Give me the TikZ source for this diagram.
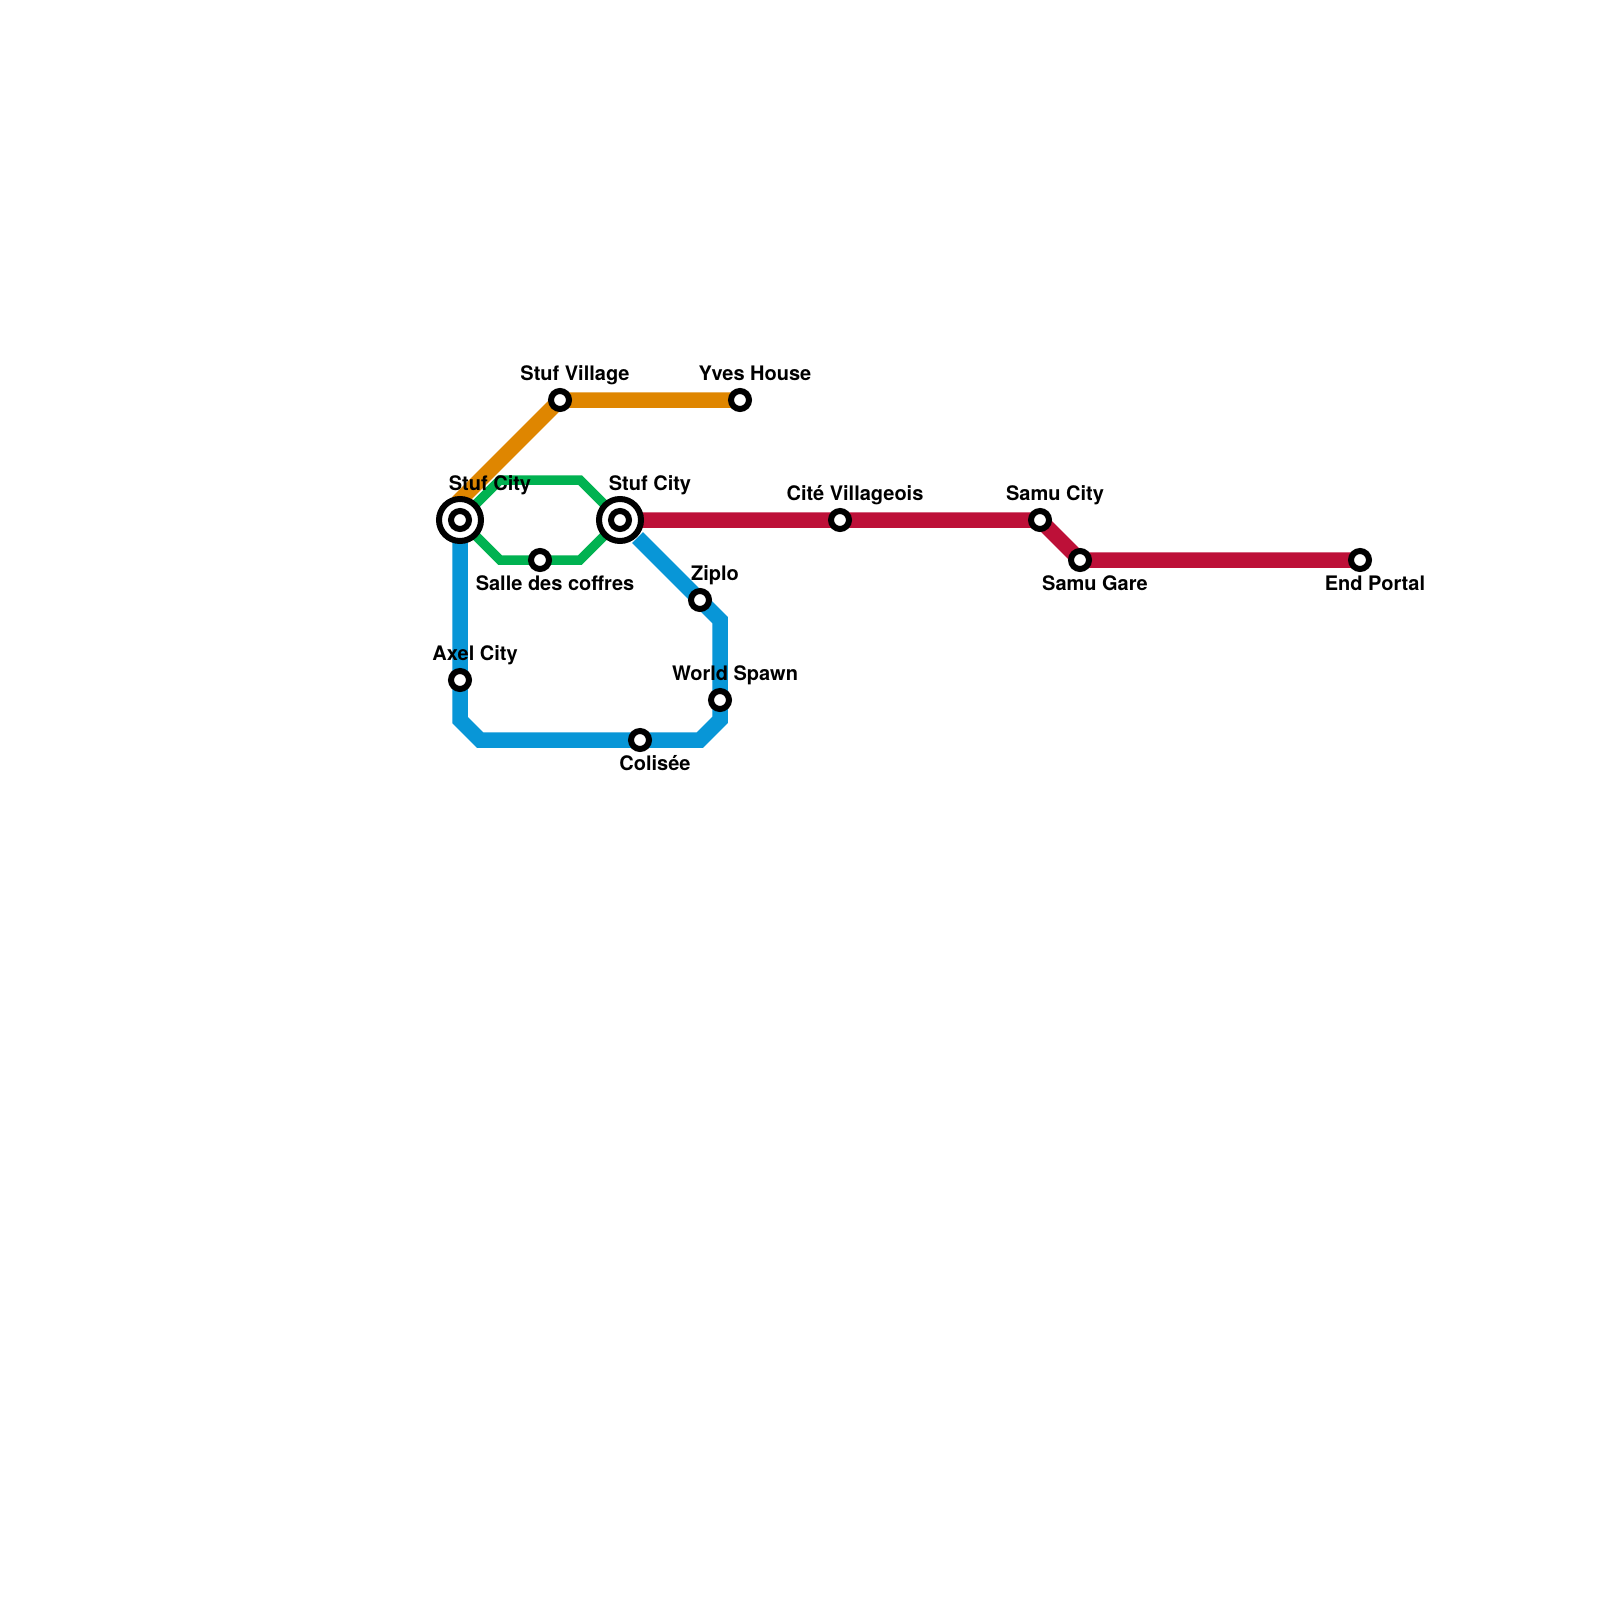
\documentclass[tikz,border=0pt]{standalone}
\usepackage{fontspec}
\setmainfont{TeX Gyre Heros}
\definecolor{lineorange}{HTML}{DF8600}
\definecolor{linegreen}{HTML}{00B251}
\definecolor{lineblue}{HTML}{0896D7}
\definecolor{linered}{HTML}{BD1038}
\tikzset{
  thick line/.style={line width=15.5pt,line join=miter},
  thin line/.style={line width=9.5pt,line join=miter},
  stop/.style={circle,draw=black,fill=white,line width=6pt,minimum size=18pt,inner sep=0pt,outer sep=0pt},
  interchange/.style={circle,draw=black,fill=white,line width=6pt,minimum size=42pt,inner sep=0pt,outer sep=0pt},
  stationlabel/.style={anchor=base,inner sep=0pt,outer sep=0pt,font=\fontsize{20pt}{22pt}\selectfont\bfseries,text=black}
}
\begin{document}
\begin{tikzpicture}[x=1pt,y=-1pt]
\useasboundingbox (0,0) rectangle (1600,1600);
\fill[white] (0,0) rectangle (1600,1600);
% bends
\coordinate (o1) at (460,500);
\coordinate (g1) at (500,480);
\coordinate (g2) at (580,480);
\coordinate (g3) at (500,560);
\coordinate (g4) at (580,560);
\coordinate (b1) at (460,720);
\coordinate (b2) at (480,740);
\coordinate (b3) at (700,740);
\coordinate (b4) at (720,720);
\coordinate (b5) at (720,620);
\coordinate (b6) at (637.5,537.5);
% station positions
\coordinate (stufA) at (460,520);
\coordinate (stufB) at (620,520);
\coordinate (village) at (560,400);
\coordinate (yves) at (740,400);
\coordinate (cite) at (840,520);
\coordinate (samucity) at (1040,520);
\coordinate (samugare) at (1080,560);
\coordinate (endportal) at (1360,560);
\coordinate (salle) at (540,560);
\coordinate (ziplo) at (700,600);
\coordinate (spawn) at (720,700);
\coordinate (colisee) at (640,740);
\coordinate (axel) at (460,680);
% lines
\draw[thick line,lineblue] (stufA) -- (axel) -- (b1) -- (b2) -- (colisee) -- (b3) -- (b4) -- (spawn) -- (b5) -- (ziplo) -- (b6);
\draw[thin line,linegreen] (stufA) -- (g1) -- (g2) -- (stufB) -- (g4) -- (salle) -- (g3) -- cycle;
\draw[thick line,lineorange] (stufA) -- (o1) -- (village) -- (yves);
\draw[thick line,linered] (stufB) -- (cite) -- (samucity) -- (samugare) -- (endportal);
% stations
\node[interchange] (stufAo) at (stufA) {};
\node[stop] (stufAi) at (stufA) {};
\node[interchange] (stufBo) at (stufB) {};
\node[stop] (stufBi) at (stufB) {};
\foreach \s in {village,yves,cite,samucity,samugare,endportal,salle,ziplo,spawn,colisee,axel}
  \node[stop] (n\s) at (\s) {};
% labels
\node[stationlabel] (lvillage) at (575,380.3) {Stuf Village};
\node[stationlabel] (lyves) at (755,380.3) {Yves House};
\node[stationlabel] (lstufA) at (490,490.3) {Stuf City};
\node[stationlabel] (lstufB) at (650,490.3) {Stuf City};
\node[stationlabel] (lcite) at (855,500.3) {Cité Villageois};
\node[stationlabel] (lsamucity) at (1055,500.3) {Samu City};
\node[stationlabel] (lsamugare) at (1095,590.3) {Samu Gare};
\node[stationlabel] (lend) at (1375,590.3) {End Portal};
\node[stationlabel] (lsalle) at (555,590.3) {Salle des coffres};
\node[stationlabel] (lziplo) at (715,580.3) {Ziplo};
\node[stationlabel] (lspawn) at (735,680.3) {World Spawn};
\node[stationlabel] (lcolisee) at (655,770.3) {Colisée};
\node[stationlabel] (laxel) at (475,660.3) {Axel City};
\end{tikzpicture}
\end{document}
